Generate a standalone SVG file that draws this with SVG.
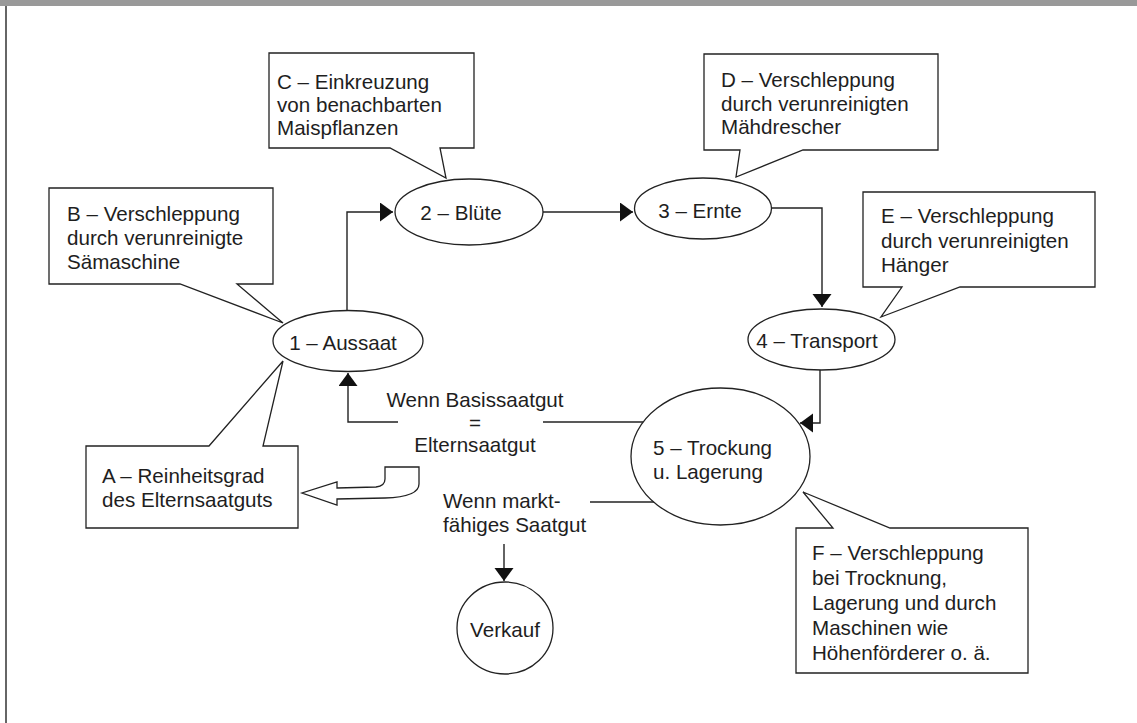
<svg xmlns="http://www.w3.org/2000/svg" width="1137" height="723" viewBox="0 0 1137 723">
<defs>
<style>
.t{font-family:"Liberation Sans",Arial,sans-serif;font-size:20.6px;fill:#1e1e1e}
.m{text-anchor:middle}
.box{fill:#fff;stroke:#222;stroke-width:1.3}
.node{fill:#fff;stroke:#222;stroke-width:1.3}
.ln{fill:none;stroke:#222;stroke-width:1.4}
</style>
<marker id="ah" markerUnits="userSpaceOnUse" markerWidth="14" markerHeight="20" refX="13" refY="9.5" orient="auto">
<path d="M0,0 L13,9.5 L0,19 z" fill="#111"/>
</marker>
</defs>
<rect x="0" y="0" width="1137" height="723" fill="#fff"/>
<rect x="0" y="0" width="1137" height="6" fill="#999"/>
<rect x="5" y="6" width="2" height="717" fill="#666"/>

<g id="connectors">
<path class="ln" d="M347,311 V212 H393" marker-end="url(#ah)"/>
<path class="ln" d="M543,212 H633" marker-end="url(#ah)"/>
<path class="ln" d="M772,208 H822 V307" marker-end="url(#ah)"/>
<path class="ln" d="M820,370 V423 H800" marker-end="url(#ah)"/>
<path class="ln" d="M643,422 H543"/>
<path class="ln" d="M398,422 H348 V373" marker-end="url(#ah)"/>
<path class="ln" d="M590,502 H654"/>
<path class="ln" d="M504,544 V581" marker-end="url(#ah)"/>
<path d="M385,467 H419 V484 Q419,497 385,498 L337,499 V505 L302,493 L337,482 V488 L376,487 Q385,486 385,479 Z" fill="#fff" stroke="#222" stroke-width="1.3"/>
</g>

<g id="labels">
<text class="t m" x="475" y="407">Wenn Basissaatgut</text>
<text class="t m" x="475" y="430">=</text>
<text class="t m" x="475" y="452">Elternsaatgut</text>
<text class="t" x="443" y="508">Wenn markt-</text>
<text class="t" x="443" y="532">fähiges Saatgut</text>
</g>

<g id="node1">
<ellipse class="node" cx="348" cy="341" rx="75" ry="30.5"/>
<text class="t m" x="343" y="350">1 – Aussaat</text>
</g>
<g id="node2">
<ellipse class="node" cx="469" cy="212" rx="74" ry="33"/>
<text class="t m" x="461" y="220">2 – Blüte</text>
</g>
<g id="node3">
<ellipse class="node" cx="703" cy="208.5" rx="68.5" ry="30.5"/>
<text class="t m" x="700" y="218">3 – Ernte</text>
</g>
<g id="node4">
<ellipse class="node" cx="821.5" cy="339.5" rx="73.5" ry="30.5"/>
<text class="t m" x="817" y="348">4 – Transport</text>
</g>
<g id="node5">
<ellipse class="node" cx="720.5" cy="456.5" rx="89.5" ry="68.5"/>
<text class="t" x="653" y="455">5 – Trockung</text>
<text class="t" x="653" y="479">u. Lagerung</text>
</g>
<g id="verkauf">
<ellipse class="node" cx="505" cy="628" rx="48" ry="46"/>
<text class="t m" x="505" y="637">Verkauf</text>
</g>

<g id="calloutA">
<path class="box" d="M86,446 H209 L283,361 L263,446 H298 V528 H86 Z"/>
<text class="t" x="102" y="483">A – Reinheitsgrad</text>
<text class="t" x="102" y="507">des Elternsaatguts</text>
</g>
<g id="calloutB">
<path class="box" d="M49,188 H273 V284 H237 L283,323 L180,284 H49 Z"/>
<text class="t" x="67" y="221">B – Verschleppung</text>
<text class="t" x="67" y="245">durch verunreinigte</text>
<text class="t" x="67" y="269">Sämaschine</text>
</g>
<g id="calloutC">
<path class="box" d="M269,53 H474 V148 H440 L446,178 L390,148 H269 Z"/>
<text class="t" x="277" y="89">C – Einkreuzung</text>
<text class="t" x="277" y="112">von benachbarten</text>
<text class="t" x="277" y="135">Maispflanzen</text>
</g>
<g id="calloutD">
<path class="box" d="M704,54 H938 V150 H803 L736,177 L740,150 H704 Z"/>
<text class="t" x="721" y="87">D – Verschleppung</text>
<text class="t" x="721" y="110.5">durch verunreinigten</text>
<text class="t" x="721" y="134">Mähdrescher</text>
</g>
<g id="calloutE">
<path class="box" d="M863,192 H1095 V287 H960 L881,317 L902,287 H863 Z"/>
<text class="t" x="881" y="223">E – Verschleppung</text>
<text class="t" x="881" y="248">durch verunreinigten</text>
<text class="t" x="881" y="272">Hänger</text>
</g>
<g id="calloutF">
<path class="box" d="M796,528 H833 L803,492 L890,528 H1028 V673 H796 Z"/>
<text class="t" x="812" y="560">F – Verschleppung</text>
<text class="t" x="812" y="585">bei Trocknung,</text>
<text class="t" x="812" y="610">Lagerung und durch</text>
<text class="t" x="812" y="635">Maschinen wie</text>
<text class="t" x="812" y="660">Höhenförderer o. ä.</text>
</g>
</svg>
